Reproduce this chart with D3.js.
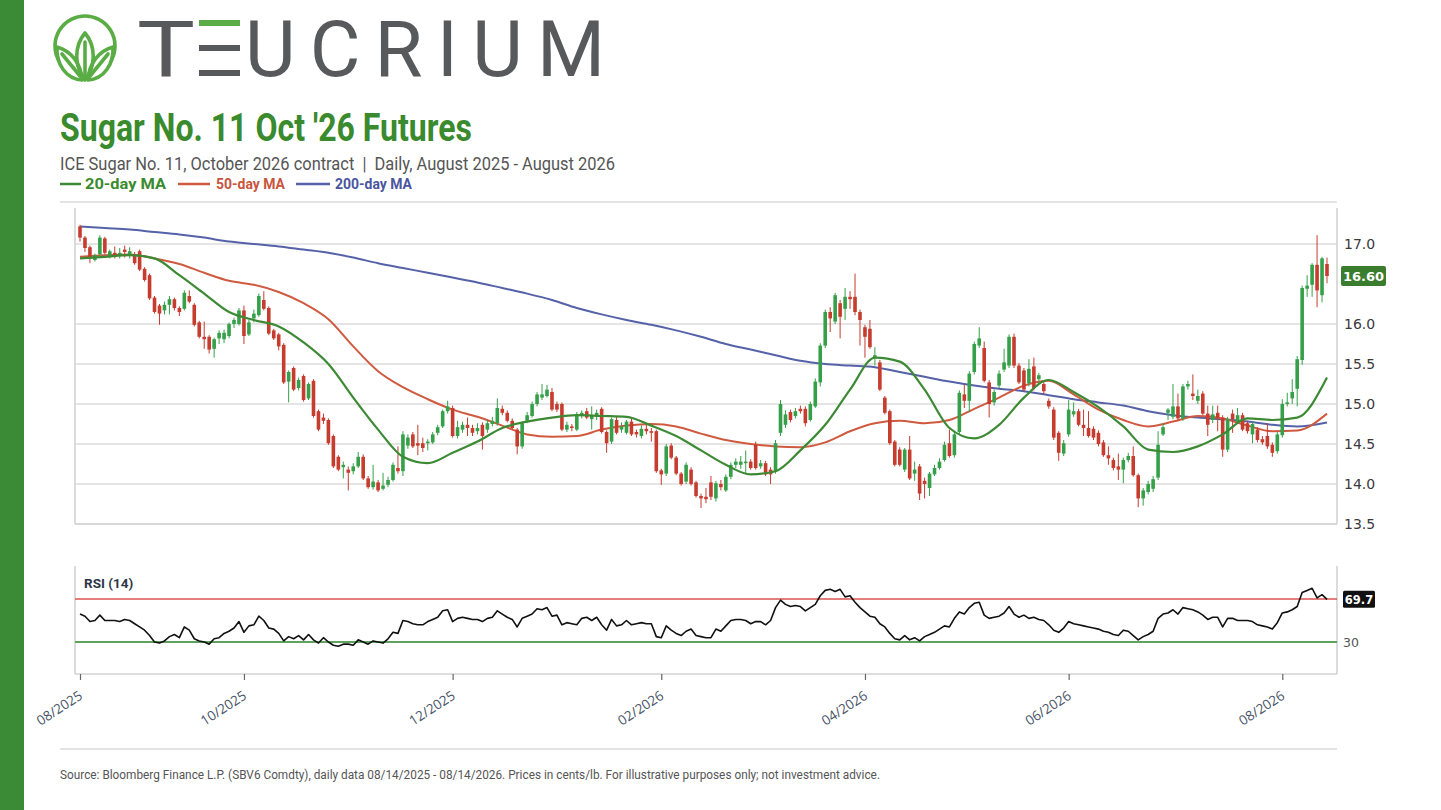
<!DOCTYPE html>
<html><head><meta charset="utf-8">
<script src="https://cdn.jsdelivr.net/npm/d3@7"></script>
<style>body{margin:0;background:#fff;} svg{display:block;}</style>
</head><body><svg id="c" width="1441" height="810"></svg>
<script>
// ---------- DATA ----------
const tickIdx = [0, 33, 75, 117, 158, 199, 242];
const tickLabels = ["08/2025","10/2025","12/2025","02/2026","04/2026","06/2026","08/2026"];
const priceTicks = [13.5, 14.0, 14.5, 15.0, 15.5, 16.0, 17.0];
const rsiLevels = [70, 30];
const lastPrice = 16.60;
const lastRsi = 69.7;

// [open, high, low, close] per trading day, 08/14/2025 .. 08/14/2026
const ohlc = [
[17.22,17.24,17.03,17.08],[17.08,17.10,16.90,16.95],[16.96,16.98,16.76,16.82],[16.80,16.88,16.78,16.86],[16.87,17.11,16.85,17.08],
[17.07,17.09,16.87,16.89],[16.84,16.93,16.82,16.91],[16.89,16.97,16.82,16.84],[16.86,16.95,16.82,16.89],[16.93,16.98,16.83,16.90],
[16.85,16.96,16.82,16.91],[16.87,16.90,16.74,16.76],[16.91,16.93,16.66,16.68],[16.69,16.71,16.53,16.55],[16.61,16.63,16.30,16.32],
[16.33,16.35,16.13,16.15],[16.23,16.25,15.99,16.13],[16.17,16.28,16.12,16.24],[16.24,16.35,16.12,16.31],[16.31,16.33,16.17,16.20],
[16.20,16.22,16.10,16.15],[16.19,16.42,16.17,16.39],[16.35,16.42,16.26,16.28],[16.24,16.26,15.97,15.99],[16.02,16.04,15.82,15.84],
[15.84,16.03,15.69,15.81],[15.84,15.86,15.63,15.68],[15.69,15.83,15.58,15.81],[15.82,15.92,15.75,15.89],[15.81,15.93,15.76,15.89],
[15.85,16.02,15.82,16.00],[16.00,16.08,15.95,16.05],[16.00,16.20,15.98,16.17],[16.17,16.23,15.75,15.85],[15.87,16.05,15.85,16.02],
[16.07,16.18,16.02,16.13],[16.11,16.38,16.09,16.35],[16.30,16.41,16.17,16.19],[16.20,16.22,15.86,15.88],[15.92,15.94,15.80,15.82],
[15.87,15.89,15.67,15.72],[15.74,15.76,15.25,15.27],[15.28,15.42,15.02,15.40],[15.45,15.47,15.16,15.18],[15.20,15.33,15.17,15.30],
[15.35,15.37,15.03,15.05],[15.07,15.27,15.05,15.25],[15.29,15.31,14.83,14.85],[14.91,14.93,14.66,14.68],[14.83,14.88,14.75,14.79],
[14.80,14.82,14.49,14.51],[14.60,14.62,14.20,14.22],[14.34,14.36,14.16,14.18],[14.21,14.28,14.07,14.24],[14.18,14.22,13.92,14.14],
[14.16,14.26,14.12,14.22],[14.22,14.40,14.20,14.34],[14.34,14.37,14.05,14.07],[14.07,14.10,13.94,13.96],[13.96,14.24,13.93,14.03],
[14.02,14.05,13.90,13.92],[13.94,14.14,13.92,13.98],[13.99,14.09,13.96,14.05],[14.05,14.27,14.03,14.24],[14.20,14.47,14.13,14.16],
[14.16,14.66,14.10,14.62],[14.48,14.62,14.44,14.58],[14.62,14.65,14.45,14.47],[14.51,14.74,14.36,14.48],[14.51,14.58,14.40,14.45],
[14.51,14.56,14.42,14.53],[14.52,14.65,14.50,14.62],[14.64,14.74,14.61,14.71],[14.72,14.93,14.70,14.91],[14.91,15.04,14.88,14.97],
[14.95,14.98,14.58,14.60],[14.60,14.79,14.57,14.71],[14.68,14.78,14.64,14.74],[14.74,14.83,14.60,14.70],[14.70,14.74,14.60,14.64],
[14.66,14.76,14.62,14.70],[14.74,14.77,14.43,14.60],[14.68,14.80,14.64,14.76],[14.75,14.84,14.72,14.79],[14.76,15.07,14.73,14.95],
[14.94,14.98,14.86,14.89],[14.89,14.92,14.77,14.79],[14.79,14.82,14.68,14.70],[14.68,14.70,14.37,14.47],[14.47,14.78,14.44,14.76],
[14.79,14.90,14.76,14.86],[14.85,15.03,14.83,15.00],[15.00,15.15,14.97,15.12],[15.08,15.25,15.05,15.12],[15.10,15.24,15.08,15.18],
[15.15,15.20,14.91,14.93],[15.00,15.03,14.90,14.93],[15.00,15.02,14.66,14.68],[14.68,14.78,14.65,14.74],[14.72,14.75,14.66,14.70],
[14.68,14.90,14.66,14.86],[14.85,14.92,14.82,14.89],[14.91,14.95,14.81,14.83],[14.81,14.97,14.68,14.85],[14.84,14.93,14.80,14.89],
[14.94,14.96,14.63,14.65],[14.65,14.67,14.39,14.51],[14.53,14.83,14.50,14.81],[14.80,14.84,14.62,14.64],[14.68,14.77,14.64,14.72],
[14.64,14.80,14.62,14.78],[14.78,14.82,14.60,14.62],[14.65,14.68,14.58,14.62],[14.60,14.73,14.57,14.69],[14.69,14.74,14.62,14.66],
[14.66,14.70,14.53,14.64],[14.66,14.68,14.14,14.16],[14.17,14.19,13.99,14.12],[14.13,14.50,14.10,14.47],[14.48,14.51,14.31,14.33],
[14.33,14.35,14.11,14.13],[14.13,14.15,13.98,14.00],[14.03,14.27,14.00,14.24],[14.18,14.21,13.98,14.00],[14.02,14.04,13.83,13.85],
[13.85,13.88,13.70,13.82],[13.84,13.95,13.76,13.81],[14.02,14.10,13.80,13.84],[13.82,14.04,13.78,14.01],[14.00,14.05,13.92,13.96],
[13.92,14.12,13.90,14.09],[14.09,14.27,14.06,14.24],[14.24,14.32,14.20,14.28],[14.24,14.35,14.19,14.28],[14.26,14.42,14.13,14.28],
[14.28,14.31,14.18,14.20],[14.49,14.53,14.18,14.20],[14.22,14.30,14.19,14.26],[14.26,14.29,14.10,14.12],[14.18,14.21,14.00,14.12],
[14.16,14.55,14.13,14.51],[14.64,15.05,14.60,15.00],[14.74,14.92,14.70,14.87],[14.90,14.93,14.77,14.80],[14.85,14.95,14.82,14.91],
[14.94,14.98,14.88,14.91],[14.94,14.97,14.72,14.76],[14.80,15.03,14.78,15.00],[14.97,15.32,14.95,15.28],[15.27,15.76,15.22,15.73],
[15.73,16.18,15.70,16.15],[16.15,16.21,15.90,16.07],[16.03,16.39,16.00,16.36],[16.26,16.30,15.82,16.09],[16.19,16.45,16.05,16.34],
[16.34,16.41,16.19,16.31],[16.34,16.63,16.11,16.15],[16.15,16.18,15.73,16.05],[15.96,15.99,15.58,15.84],[15.94,16.05,15.69,15.71],
[15.58,15.71,15.48,15.61],[15.52,15.55,15.16,15.18],[15.08,15.10,14.87,14.89],[14.91,14.93,14.49,14.51],[14.53,14.55,14.22,14.24],
[14.43,14.46,14.22,14.24],[14.18,14.45,14.15,14.43],[14.43,14.60,14.05,14.07],[14.13,14.28,14.04,14.18],[14.22,14.25,13.80,13.88],
[14.04,14.08,13.82,14.00],[13.95,14.15,13.85,14.13],[14.12,14.24,14.10,14.20],[14.20,14.32,14.18,14.28],[14.30,14.53,14.28,14.49],
[14.51,14.68,14.33,14.35],[14.36,14.66,14.33,14.62],[14.65,15.17,14.62,15.14],[15.12,15.24,14.95,15.04],[15.04,15.41,14.90,15.38],
[15.40,15.78,15.37,15.75],[15.73,15.96,15.70,15.82],[15.70,15.78,15.27,15.29],[15.27,15.30,14.83,15.00],[15.02,15.18,14.98,15.15],
[15.23,15.42,15.20,15.38],[15.43,15.69,15.40,15.52],[15.48,15.87,15.45,15.84],[15.84,15.88,15.45,15.48],[15.48,15.51,15.25,15.27],
[15.42,15.45,15.16,15.18],[15.26,15.56,15.22,15.44],[15.47,15.58,15.17,15.20],[15.31,15.39,15.26,15.36],[15.25,15.30,15.12,15.16],
[15.04,15.07,14.94,14.97],[14.93,14.96,14.55,14.58],[14.64,14.66,14.29,14.39],[14.38,14.55,14.35,14.51],[14.62,15.05,14.59,14.93],
[14.87,15.02,14.84,14.91],[14.91,14.94,14.72,14.74],[14.74,14.93,14.60,14.70],[14.70,14.91,14.58,14.60],[14.69,14.72,14.55,14.58],
[14.64,14.67,14.47,14.50],[14.52,14.55,14.34,14.36],[14.36,14.47,14.24,14.32],[14.30,14.33,14.17,14.20],[14.22,14.38,14.05,14.18],
[14.18,14.33,14.01,14.30],[14.30,14.39,14.27,14.35],[14.35,14.47,14.09,14.11],[14.11,14.13,13.71,13.82],[13.82,13.95,13.73,13.92],
[13.90,14.04,13.87,14.00],[13.94,14.10,13.90,14.06],[14.08,14.66,14.05,14.49],[14.62,14.76,14.60,14.71],[14.89,14.95,14.80,14.93],
[14.84,15.25,14.81,14.97],[14.97,15.13,14.79,14.82],[14.82,15.25,14.79,15.22],[15.22,15.29,15.18,15.25],[15.13,15.37,15.05,15.10],
[15.04,15.18,15.00,15.10],[15.13,15.16,14.86,14.88],[14.88,14.98,14.60,14.74],[14.80,14.98,14.76,14.87],[14.89,14.98,14.66,14.83],
[14.83,14.86,14.34,14.43],[14.43,14.84,14.40,14.81],[14.88,14.93,14.64,14.81],[14.78,14.95,14.75,14.86],[14.86,14.89,14.66,14.68],
[14.76,14.79,14.63,14.66],[14.62,14.78,14.51,14.75],[14.68,14.71,14.52,14.55],[14.56,14.60,14.49,14.52],[14.60,14.76,14.44,14.47],
[14.49,14.52,14.34,14.39],[14.41,14.65,14.38,14.62],[14.61,15.06,14.58,15.00],[15.00,15.14,14.97,15.02],[15.07,15.31,15.00,15.15],
[15.19,15.60,14.97,15.56],[15.55,16.48,15.49,16.45],[16.44,16.61,16.34,16.48],[16.49,16.76,16.34,16.74],[16.74,17.11,16.21,16.42],
[16.36,16.84,16.27,16.82],[16.75,16.83,16.51,16.60]
];

// moving averages read at these trading-day positions
const maIdx = [0,5,10,15,20,25,30,35,40,45,50,55,60,65,70,75,80,85,90,95,100,105,110,115,120,125,130,135,140,145,150,155,160,165,170,175,180,185,190,195,200,205,210,215,220,225,230,235,240,245,251];
const ma20 = [16.82,16.84,16.86,16.82,16.61,16.38,16.15,16.05,15.97,15.77,15.50,15.08,14.68,14.34,14.26,14.39,14.53,14.70,14.78,14.83,14.86,14.85,14.84,14.73,14.60,14.42,14.24,14.12,14.16,14.42,14.74,15.18,15.58,15.53,15.18,14.70,14.57,14.74,15.08,15.30,15.15,14.96,14.72,14.43,14.40,14.47,14.62,14.82,14.80,14.83,15.33];
const ma50 = [16.84,16.86,16.87,16.82,16.75,16.64,16.54,16.49,16.40,16.26,16.06,15.72,15.41,15.21,15.06,14.93,14.84,14.73,14.62,14.59,14.60,14.68,14.73,14.75,14.72,14.63,14.55,14.50,14.47,14.46,14.52,14.66,14.76,14.79,14.76,14.80,14.94,15.08,15.23,15.29,15.12,14.93,14.80,14.72,14.78,14.85,14.82,14.73,14.66,14.67,14.88];
const ma200 = [17.22,17.20,17.18,17.15,17.12,17.08,17.03,17.00,16.97,16.93,16.89,16.83,16.76,16.70,16.64,16.58,16.52,16.45,16.38,16.30,16.20,16.12,16.05,15.99,15.92,15.84,15.75,15.68,15.61,15.54,15.50,15.48,15.46,15.40,15.34,15.28,15.23,15.19,15.16,15.11,15.06,15.02,14.98,14.91,14.86,14.83,14.81,14.78,14.74,14.72,14.77];

// RSI(14), one value per trading day
const rsi = [
56,54,49,50,55,50,50,50,49,51, 50,47,44,41,36,30,29,31,35,37,
34,44,41,33,31,30,28,33,34,38, 40,43,49,39,45,46,54,50,43,42,
38,31,35,33,36,32,37,32,29,34, 30,27,26,28,28,27,32,30,28,31,
30,29,33,39,38,50,49,47,46,46, 49,51,53,59,60,49,52,53,52,51,
51,49,52,53,59,56,53,51,44,52, 54,56,61,60,62,54,55,46,48,47,
46,52,53,50,53,46,41,51,45,46, 50,46,47,48,47,47,35,34,45,41,
38,36,40,42,36,35,34,34,42,40, 45,50,51,51,50,47,49,49,46,50,
62,69,65,63,64,63,59,62,65,73, 78,79,77,79,72,73,67,62,58,54,
53,47,44,38,33,32,36,32,34,31, 35,37,39,42,45,44,52,58,56,62,
66,67,55,52,53,54,57,63,56,53, 55,52,53,51,50,46,41,39,43,49,
47,46,45,44,43,42,40,39,37,36, 41,40,36,32,35,37,40,52,56,57,
60,56,62,61,60,58,55,51,53,53, 44,52,52,50,50,50,49,46,45,44,
42,48,57,58,60,63,76,78,80,71, 74,69.7
];

// ---------- CHART ----------
const svg = d3.select("#c");
const GREEN = "#3b8a35", RED_MA = "#cf5a3f", BLUE_MA = "#5562a8", MA20C = "#3d8a35";
const UP = "#35a049", DN = "#c63c2e";

svg.append("rect").attr("width",1441).attr("height",810).attr("fill","#fff");
svg.append("rect").attr("x",0).attr("y",0).attr("width",24).attr("height",810).attr("fill",GREEN);

// logo icon
const logo = svg.append("g").attr("fill","none").attr("stroke","#5aad45").attr("stroke-width",3.6).attr("stroke-linejoin","round").attr("stroke-linecap","round");
logo.append("path").attr("d","M58.5,60 A30,30 0 1,1 111.5,60");
logo.append("path").attr("d","M85,80 C74,66 74,46 85,33 C96,46 96,66 85,80 Z");
logo.append("path").attr("d","M85,76 L85,42");
logo.append("path").attr("d","M82,80 C66,79 56,64 57,47 C71,51 81,63 82,80 Z");
logo.append("path").attr("d","M80,76 L62,54");
logo.append("path").attr("d","M88,80 C104,79 114,64 113,47 C99,51 89,63 88,80 Z");
logo.append("path").attr("d","M90,76 L108,54");

// wordmark
const LOGO_GRAY = "#58595b";
svg.append("text").attr("x",137).attr("y",76).attr("font-family","Roboto, sans-serif").attr("font-weight",400)
  .attr("font-size",78).attr("fill",LOGO_GRAY).attr("textLength",58).attr("lengthAdjust","spacingAndGlyphs").text("T");
svg.append("rect").attr("x",199).attr("y",20).attr("width",41).attr("height",6).attr("fill","#5aad45");
svg.append("rect").attr("x",199).attr("y",45).attr("width",41).attr("height",6).attr("fill",LOGO_GRAY);
svg.append("rect").attr("x",199).attr("y",70).attr("width",41).attr("height",6).attr("fill",LOGO_GRAY);
svg.append("text").attr("x",245).attr("y",76).attr("font-family","Roboto, sans-serif").attr("font-weight",400)
  .attr("font-size",78).attr("fill",LOGO_GRAY).attr("textLength",360).attr("lengthAdjust","spacing").text("UCRIUM");

// title block
svg.append("text").attr("x",60).attr("y",141).attr("font-family","Roboto, sans-serif").attr("font-weight",700)
  .attr("font-size",38).attr("fill","#3a8a2e").attr("textLength",412).attr("lengthAdjust","spacingAndGlyphs")
  .text("Sugar No. 11 Oct '26 Futures");
svg.append("text").attr("x",60).attr("y",170).attr("font-family","Roboto, sans-serif").attr("font-weight",400)
  .attr("font-size",18.5).attr("fill","#555").attr("textLength",555).attr("lengthAdjust","spacingAndGlyphs")
  .text("ICE Sugar No. 11, October 2026 contract \u00a0|\u00a0 Daily, August 2025 - August 2026");

const legend = [
  {label:"20-day MA", color:MA20C, tcolor:"#3a8a2e", lx:[60,81], tx:85, tl:81},
  {label:"50-day MA", color:RED_MA, tcolor:"#c8553d", lx:[178,210], tx:216, tl:69},
  {label:"200-day MA", color:BLUE_MA, tcolor:"#4b55a0", lx:[296,330], tx:335, tl:77}
];
legend.forEach(d=>{
  svg.append("line").attr("x1",d.lx[0]).attr("x2",d.lx[1]).attr("y1",184).attr("y2",184).attr("stroke",d.color).attr("stroke-width",2.5);
  svg.append("text").attr("x",d.tx).attr("y",189).attr("font-family","Roboto, sans-serif").attr("font-weight",700)
    .attr("font-size",14).attr("fill",d.tcolor).attr("textLength",d.tl).attr("lengthAdjust","spacingAndGlyphs").text(d.label);
});

// scales
const X0 = 75, X1 = 1337;
const x = d3.scaleLinear().domain([0, ohlc.length-1]).range([80, 1327]);
const y = d3.scaleLinear().domain([13.5, 17.45]).range([524, 208]);
const yr = d3.scaleLinear().domain([0, 100]).range([674.25, 566.75]);

// top rule
svg.append("line").attr("x1",60).attr("x2",X1).attr("y1",202).attr("y2",202).attr("stroke","#dadada").attr("stroke-width",1.5);

// price grid
svg.append("g").selectAll("line").data(priceTicks).join("line")
  .attr("x1",X0).attr("x2",X1).attr("y1",d=>y(d)).attr("y2",d=>y(d)).attr("stroke","#dcdcdc").attr("stroke-width",1.3);
// frame
const frame = svg.append("g").attr("stroke","#d3d3d3").attr("stroke-width",1.6);
frame.append("line").attr("x1",X0).attr("x2",X0).attr("y1",208).attr("y2",524);
frame.append("line").attr("x1",X1).attr("x2",X1).attr("y1",208).attr("y2",524);
frame.append("line").attr("x1",X0).attr("x2",X1).attr("y1",524).attr("y2",524);

// y axis labels
const yAxis = svg.append("g").attr("transform",`translate(${X1},0)`)
  .call(d3.axisRight(y).tickValues(priceTicks).tickFormat(d3.format(".1f")).tickSize(0).tickPadding(7));
yAxis.select(".domain").remove();
yAxis.selectAll("text").attr("font-family","DejaVu Sans, sans-serif").attr("font-size",14).attr("fill","#3a3a3a");

// moving averages
const maLine = d3.line().x((d,i)=>x(maIdx[i])).y(d=>y(d)).curve(d3.curveMonotoneX);
svg.append("path").attr("d",maLine(ma200)).attr("fill","none").attr("stroke",BLUE_MA).attr("stroke-width",2);
svg.append("path").attr("d",maLine(ma50)).attr("fill","none").attr("stroke",RED_MA).attr("stroke-width",2);

// candles
const cw = 3.6;
const cg = svg.append("g");
cg.selectAll("line").data(ohlc).join("line")
  .attr("x1",(d,i)=>x(i)).attr("x2",(d,i)=>x(i)).attr("y1",d=>y(d[1])).attr("y2",d=>y(d[2]))
  .attr("stroke",d=>d[3]>=d[0]?UP:DN).attr("stroke-width",1);
cg.selectAll("rect").data(ohlc).join("rect")
  .attr("x",(d,i)=>x(i)-cw/2).attr("width",cw)
  .attr("y",d=>y(Math.max(d[0],d[3])))
  .attr("height",d=>Math.max(1,Math.abs(y(d[0])-y(d[3]))))
  .attr("fill",d=>d[3]>=d[0]?UP:DN);

svg.append("path").attr("d",maLine(ma20)).attr("fill","none").attr("stroke",MA20C).attr("stroke-width",2.2);

// last price badge
const by = y(lastPrice);
svg.append("rect").attr("x",1341).attr("y",by-10).attr("width",45).attr("height",20).attr("rx",2).attr("fill","#3a7d2e");
svg.append("text").attr("x",1363.5).attr("y",by+5).attr("text-anchor","middle").attr("font-family","DejaVu Sans, sans-serif")
  .attr("font-weight",700).attr("font-size",13).attr("fill","#fff").text(lastPrice.toFixed(2));

// ---------- RSI panel ----------
const rf = svg.append("g").attr("stroke","#d3d3d3").attr("stroke-width",1.6);
rf.append("line").attr("x1",X0).attr("x2",X0).attr("y1",566).attr("y2",674);
rf.append("line").attr("x1",X1).attr("x2",X1).attr("y1",566).attr("y2",674);
rf.append("line").attr("x1",X0).attr("x2",X1).attr("y1",674).attr("y2",674);

svg.append("line").attr("x1",X0).attr("x2",X1).attr("y1",yr(rsiLevels[0])).attr("y2",yr(rsiLevels[0])).attr("stroke","#d9534f").attr("stroke-width",1.6);
svg.append("line").attr("x1",X0).attr("x2",X1).attr("y1",yr(rsiLevels[1])).attr("y2",yr(rsiLevels[1])).attr("stroke","#5fa35f").attr("stroke-width",1.8);

svg.append("text").attr("x",84).attr("y",588).attr("font-family","Roboto, sans-serif").attr("font-weight",700)
  .attr("font-size",13.5).attr("fill","#2d3748").text("RSI (14)");

const rsiLine = d3.line().x((d,i)=>x(i)).y(d=>yr(d));
svg.append("path").attr("d",rsiLine(rsi)).attr("fill","none").attr("stroke","#111").attr("stroke-width",1.6).attr("stroke-linejoin","round");

svg.append("text").attr("x",1343).attr("y",yr(30)+5).attr("font-family","DejaVu Sans, sans-serif").attr("font-size",12.5)
  .attr("fill","#555").text("30");
const ry = yr(lastRsi);
svg.append("rect").attr("x",1343).attr("y",ry-8.5).attr("width",32).attr("height",17).attr("rx",1.5).attr("fill","#111");
svg.append("text").attr("x",1359).attr("y",ry+4.5).attr("text-anchor","middle").attr("font-family","DejaVu Sans, sans-serif")
  .attr("font-weight",700).attr("font-size",11.5).attr("fill","#fff").text(lastRsi.toFixed(1));

// x axis
const xAxis = svg.append("g").attr("transform","translate(0,674)")
  .call(d3.axisBottom(x).tickValues(tickIdx).tickFormat((d,i)=>tickLabels[i]).tickSize(6).tickPadding(4));
xAxis.select(".domain").remove();
xAxis.selectAll(".tick line").attr("stroke","#666").attr("stroke-width",1.2);
xAxis.selectAll("text").attr("font-family","Open Sans, sans-serif").attr("font-size",13.5).attr("fill","#4a5568")
  .attr("text-anchor","end").attr("dy",0).attr("y",0)
  .attr("transform","translate(3,24) rotate(-33)");

// footer
svg.append("line").attr("x1",60).attr("x2",X1).attr("y1",749).attr("y2",749).attr("stroke","#dadada").attr("stroke-width",1.5);
svg.append("text").attr("x",60).attr("y",779).attr("font-family","Roboto, sans-serif").attr("font-size",12.5)
  .attr("fill","#555").attr("textLength",820).attr("lengthAdjust","spacingAndGlyphs")
  .text("Source: Bloomberg Finance L.P. (SBV6 Comdty), daily data 08/14/2025 - 08/14/2026. Prices in cents/lb. For illustrative purposes only; not investment advice.");
</script></body></html>
